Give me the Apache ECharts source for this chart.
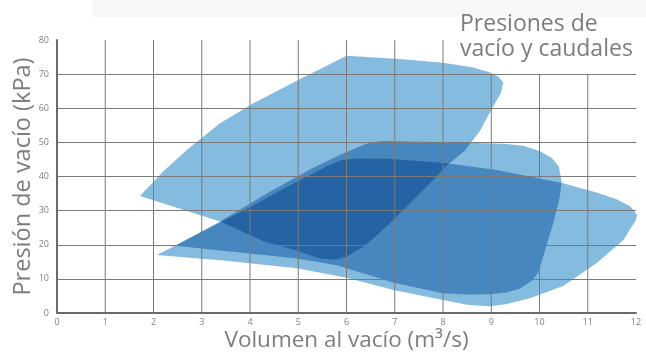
<!DOCTYPE html>
<html>
<head>
<meta charset="utf-8">
<script src="https://cdn.jsdelivr.net/npm/echarts@6/dist/echarts.min.js"></script>
<style>html,body{margin:0;padding:0;background:#fff}#c{width:646px;height:352px}</style>
</head>
<body>
<div id="c"></div>
<script>
// Upper leaf-shaped zone (points: [volume m3/s, pressure kPa])
const shapeA = [
  [1.72,34.3],[2.2,41.5],[2.69,47.8],[3.38,55.6],[4.07,61.5],[5.0,68.3],[6.0,75.4],
  [7.1,74.4],[8.0,73.3],[8.6,72.0],[8.95,70.6],[9.15,69.2],[9.25,67.5],
  [9.2,64.5],[9.0,59.5],[8.77,53.5],[8.45,47.5],[8.1,43.5],[7.73,38],[7.04,28.2],
  [6.69,23.5],[6.35,19.4],[6.0,16.5],[5.75,15.6],[5.45,16.0],
  [5.0,18.2],[4.28,21],[3.38,26.8]
];
// Middle rounded zone
const shapeB = [
  [2.45,19.7],[3.38,26.8],[4.41,35.5],[5.3,42.5],[5.9,46.5],[6.4,49.5],[6.7,50.4],
  [7.5,50.2],[8.5,49.9],[9.25,49.6],[9.66,49.0],[10.0,47.5],[10.25,45.5],[10.4,42.9],[10.46,38.5],
  [10.42,34],[10.3,27],[10.15,20],[9.98,12],[9.85,9.5],[9.6,7.2],[9.3,6.0],[8.97,5.5],
  [8.5,5.4],[8.0,5.8],[7.0,8.8],[5.8,14.0],[4.97,16.0],[3.59,18]
];
// Lower zone with right tip
const shapeC = [
  [2.07,17.0],[3.38,26.5],[4.0,31],[4.62,35.8],[5.04,39],[5.59,43],[5.9,44.8],[6.2,45.3],
  [6.9,45.2],[8.08,43.9],[9.11,41.9],[10.49,38.0],[11.18,35.3],[11.6,33.3],[11.88,31.3],[12.02,28.8],[12.0,27.3],
  [11.74,21.4],[11.18,14.6],[10.49,7.9],[9.8,4.3],[9.3,2.6],[8.97,2.0],[8.5,2.4],[8.0,3.8],
  [7.0,6.7],[6.0,10.3],[4.97,13.1],[3.5,15.3]
];
const xMin = 0, xMax = 12, xStep = 1;
const yMin = 0, yMax = 80, yStep = 10;
const gridX   = [1, 2, 3, 4, 5, 6, 7, 8, 9, 10, 11];
const gridTop = [80, 80, 80, 80, 80, 80, 80, 80, 70, 70, 70];
const titleLines = ['Presiones de', 'vacío y caudales'];
const xName = 'Volumen al vacío (m³/s)';
const yName = 'Presión de vacío (kPa)';

const light = '#85bbde', medium = '#4587be', dark = '#2464a4';

function zonesItem(params, api) {
  const P = s => s.map(p => api.coord(p));
  const A = P(shapeA), B = P(shapeB), C = P(shapeC);
  const poly = (pts, fill, clip) => {
    const o = { type: 'polygon', shape: { points: pts }, style: { fill: fill } };
    if (clip) o.clipPath = { type: 'polygon', shape: { points: clip } };
    return o;
  };
  return {
    type: 'group',
    children: [
      poly(A, light), poly(B, light), poly(C, light),
      poly(A, medium, B), poly(A, medium, C), poly(B, medium, C),
      { type: 'group', clipPath: { type: 'polygon', shape: { points: C } },
        children: [poly(A, dark, B)] }
    ]
  };
}

const chart = echarts.init(document.getElementById('c'), null, { renderer: 'canvas' });
chart.setOption({
  animation: false,
  backgroundColor: '#fff',
  grid: { left: 57, right: 10, top: 40, bottom: 39, containLabel: false, outerBoundsMode: 'none' },
  title: {
    text: titleLines.join('\n'),
    left: 456, top: 8,
    padding: [4, 4, 4, 4],
    textStyle: { color: '#7d7d7d', fontSize: 23, fontWeight: 'normal', lineHeight: 25, fontFamily: 'Open Sans' }
  },
  graphic: [{ type: 'rect', shape: { x: 92, y: 0, width: 554, height: 17 }, style: { fill: '#f7f7f7' }, z: -1 }],
  xAxis: {
    type: 'value', min: xMin, max: xMax, interval: xStep, z: 5,
    name: xName, nameLocation: 'middle', nameGap: 16, nameMoveOverlap: false,
    nameTextStyle: { color: '#7d7d7d', fontSize: 22.5, fontFamily: 'Open Sans' },
    axisLine: { show: true, lineStyle: { color: '#6a6a6a', width: 2 } },
    axisTick: { show: false },
    axisLabel: { color: '#808080', fontSize: 9, margin: 5, fontFamily: 'Open Sans' },
    splitLine: { show: false }
  },
  yAxis: {
    type: 'value', min: yMin, max: yMax, interval: yStep, z: 5,
    name: yName, nameLocation: 'middle', nameGap: 22, nameMoveOverlap: false,
    nameTextStyle: { color: '#7d7d7d', fontSize: 23.5, fontFamily: 'Open Sans' },
    axisLine: { show: true, lineStyle: { color: '#6a6a6a', width: 2 } },
    axisTick: { show: false },
    axisLabel: { color: '#808080', fontSize: 9, margin: 8, fontFamily: 'Open Sans' },
    splitLine: { show: true, showMaxLine: false, lineStyle: { color: '#7a7a7a', width: 1 } }
  },
  series: [
    { type: 'custom', name: 'zonas', data: [[0, 0]], z: 2, renderItem: zonesItem },
    {
      type: 'custom', name: 'rejilla', z: 4,
      data: gridX.map((x, i) => [x, gridTop[i]]),
      renderItem: function (params, api) {
        const top = api.coord([api.value(0), api.value(1)]);
        const bot = api.coord([api.value(0), 0]);
        return { type: 'line', shape: { x1: top[0], y1: top[1], x2: bot[0], y2: bot[1] },
                 style: { stroke: '#7a7a7a', lineWidth: 1 } };
      }
    }
  ]
});
</script>
</body>
</html>
